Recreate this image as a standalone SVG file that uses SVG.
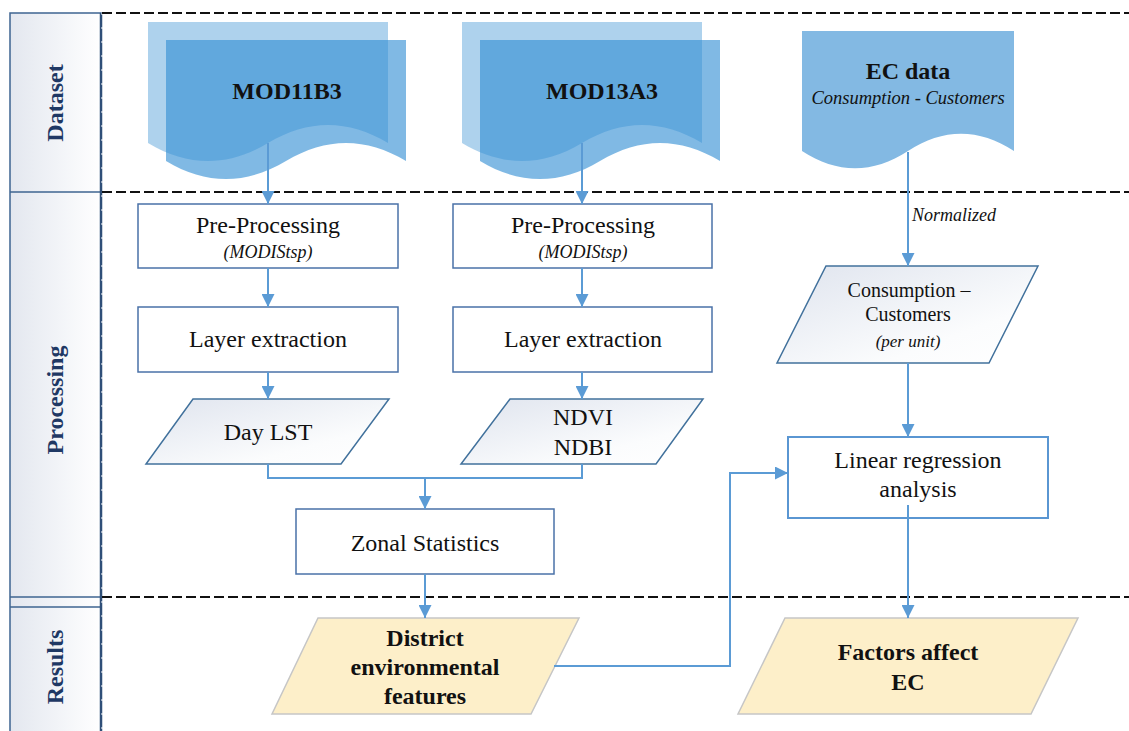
<svg xmlns="http://www.w3.org/2000/svg" width="1129" height="731" viewBox="0 0 1129 731">
<defs>
<linearGradient id="laneGrad" x1="0" y1="0" x2="1" y2="0">
<stop offset="0" stop-color="#e3e7ef"/>
<stop offset="1" stop-color="#ffffff"/>
</linearGradient>
<linearGradient id="paraGrad" x1="0" y1="0" x2="1" y2="1">
<stop offset="0" stop-color="#dfe4ee"/>
<stop offset="0.7" stop-color="#fbfcfd"/>
<stop offset="1" stop-color="#ffffff"/>
</linearGradient>
<marker id="arr" markerUnits="userSpaceOnUse" markerWidth="13" markerHeight="13" viewBox="0 0 13 13" refX="13" refY="6.5" orient="auto">
<path d="M0,0 L13,6.5 L0,13 Z" fill="#5b9bd5"/>
</marker>
<style>
.sep{stroke:#111;stroke-width:2;stroke-dasharray:10 4;fill:none}
.lane{fill:url(#laneGrad);stroke:#3e6491;stroke-width:1.5}
.laneTxt{font-family:"Liberation Serif",serif;font-weight:bold;font-size:24px;fill:#1f3864;text-anchor:middle}
.back{fill:#5ea6dc;fill-opacity:0.5}
.front{fill:#328ed3;fill-opacity:0.62}
.ec{fill:#83b9e3}
.box{fill:#fff;stroke:#4a72a8;stroke-width:1.5}
.box2{fill:#fff;stroke:#5a96d2;stroke-width:2}
.para{fill:url(#paraGrad);stroke:#41719c;stroke-width:1.5}
.res{fill:#fdefc9;stroke:#c6c6c6;stroke-width:1.5}
.t{font-family:"Liberation Serif",serif;font-size:24px;fill:#111;text-anchor:middle}
.b{font-weight:bold}
.i{font-style:italic}
.conn{fill:none;stroke:#5b9bd5;stroke-width:2}
</style>
</defs>

<g id="lanes">
<rect class="lane" x="10" y="13" width="91" height="730"/>
<line x1="10" y1="192" x2="101" y2="192" stroke="#3e6491" stroke-width="1.5"/>
<line x1="10" y1="597" x2="101" y2="597" stroke="#3e6491" stroke-width="1.5"/>
<line x1="10" y1="607" x2="101" y2="607" stroke="#3e6491" stroke-width="1.5"/>
<line x1="101" y1="13" x2="101" y2="731" stroke="#2f4f78" stroke-width="2.5"/>
<line x1="102" y1="13" x2="102" y2="731" stroke="#fff" stroke-width="1" stroke-dasharray="2 12"/>
<line class="sep" x1="102" y1="13" x2="1129" y2="13"/>
<line class="sep" x1="102" y1="192" x2="1129" y2="192"/>
<line class="sep" x1="102" y1="597" x2="1129" y2="597"/>
<text class="laneTxt" transform="translate(63,103) rotate(-90)">Dataset</text>
<text class="laneTxt" transform="translate(63,400) rotate(-90)">Processing</text>
<text class="laneTxt" transform="translate(63,667) rotate(-90)">Results</text>
</g>

<g id="mod11b3">
<path class="back" d="M148,22 H388 V143 C348,119 308,119 268,143 C228,167 188,167 148,143 Z"/>
<path class="front" d="M166,40 H406 V161 C366,137 326,137 286,161 C246,185 206,185 166,161 Z"/>
<text class="t b" x="287" y="99">MOD11B3</text>
</g>

<g id="mod13a3">
<path class="back" d="M462,22 H702 V143 C662,119 622,119 582,143 C542,167 502,167 462,143 Z"/>
<path class="front" d="M480,40 H720 V161 C680,137 640,137 600,161 C560,185 520,185 480,161 Z"/>
<text class="t b" x="602" y="99">MOD13A3</text>
</g>

<g id="ecdata">
<path class="ec" d="M802,31 H1014 V151 C979,128 943,128 908,151 C873,174 837,174 802,151 Z"/>
<text class="t b" x="908" y="79">EC data</text>
<text class="t i" x="908" y="104" style="font-size:18.5px">Consumption - Customers</text>
</g>

<g id="preproc1">
<rect class="box" x="138" y="204" width="260" height="64"/>
<text class="t" x="268" y="233">Pre-Processing</text>
<text class="t i" x="268" y="258" style="font-size:18px">(MODIStsp)</text>
</g>

<g id="preproc2">
<rect class="box" x="453" y="204" width="259" height="64"/>
<text class="t" x="583" y="233">Pre-Processing</text>
<text class="t i" x="583" y="258" style="font-size:18px">(MODIStsp)</text>
</g>

<g id="layer1">
<rect class="box" x="138" y="307" width="260" height="65"/>
<text class="t" x="268" y="347">Layer extraction</text>
</g>

<g id="layer2">
<rect class="box" x="453" y="307" width="259" height="65"/>
<text class="t" x="583" y="347">Layer extraction</text>
</g>

<g id="daylst">
<path class="para" d="M193,399 H389 L341,464 H146 Z"/>
<text class="t" x="268" y="440">Day LST</text>
</g>

<g id="ndvi">
<path class="para" d="M510,399 H703 L656,464 H461 Z"/>
<text class="t" x="583" y="425">NDVI</text>
<text class="t" x="583" y="455">NDBI</text>
</g>

<g id="zonal">
<rect class="box" x="296" y="509" width="258" height="65"/>
<text class="t" x="425" y="551">Zonal Statistics</text>
</g>

<g id="consumption">
<path class="para" d="M826,266 H1038 L989,363 H777 Z"/>
<text class="t" x="909" y="297" style="font-size:20px">Consumption –</text>
<text class="t" x="908" y="321" style="font-size:20px">Customers</text>
<text class="t i" x="908" y="347" style="font-size:17px">(per unit)</text>
</g>

<g id="linreg">
<rect class="box2" x="788" y="437" width="260" height="81"/>
<text class="t" x="918" y="468">Linear regression</text>
<text class="t" x="918" y="497">analysis</text>
</g>

<g id="district">
<path class="res" d="M318,618 H579 L531,714 H272 Z"/>
<text class="t b" x="425" y="646">District</text>
<text class="t b" x="425" y="675">environmental</text>
<text class="t b" x="425" y="704">features</text>
</g>

<g id="factors">
<path class="res" d="M785,618 H1078 L1031,714 H738 Z"/>
<text class="t b" x="908" y="660">Factors affect</text>
<text class="t b" x="908" y="690">EC</text>
</g>

<g id="connectors">
<path class="conn" d="M268,143 V204" marker-end="url(#arr)"/>
<path class="conn" d="M582,143 V204" marker-end="url(#arr)"/>
<path class="conn" d="M268,268 V307" marker-end="url(#arr)"/>
<path class="conn" d="M582,268 V307" marker-end="url(#arr)"/>
<path class="conn" d="M268,372 V399" marker-end="url(#arr)"/>
<path class="conn" d="M582,372 V399" marker-end="url(#arr)"/>
<path class="conn" d="M268,464 V478 H582 V464"/>
<path class="conn" d="M425,478 V509" marker-end="url(#arr)"/>
<path class="conn" d="M425,574 V618" marker-end="url(#arr)"/>
<path class="conn" d="M908,152 V266" marker-end="url(#arr)"/>
<text class="t i" x="912" y="221" style="font-size:18px;text-anchor:start">Normalized</text>
<path class="conn" d="M908,363 V437" marker-end="url(#arr)"/>
<path class="conn" d="M908,505 V618" marker-end="url(#arr)"/>
<path class="conn" d="M554,666 H730 V473 H788" marker-end="url(#arr)"/>
</g>
</svg>
